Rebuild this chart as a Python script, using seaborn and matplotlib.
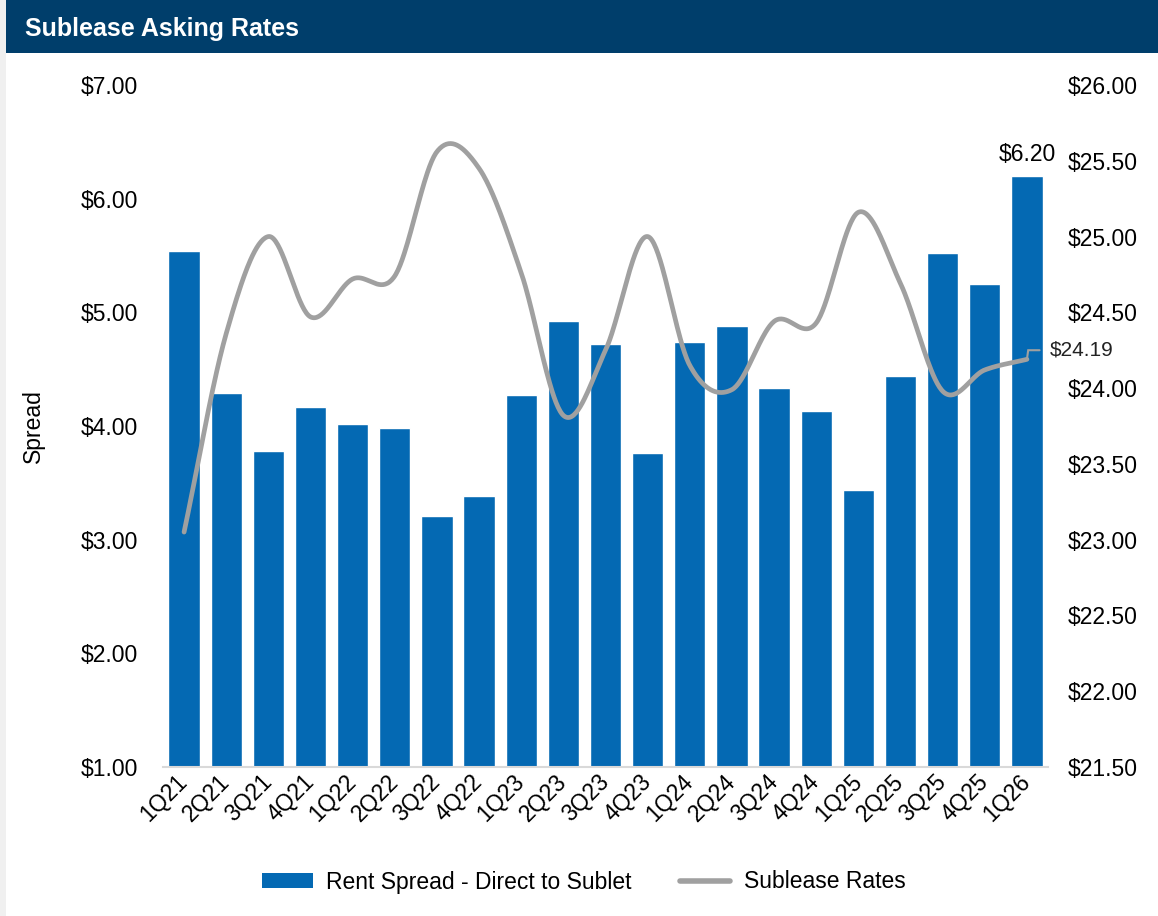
import numpy as np
import pandas as pd
import matplotlib
matplotlib.use("Agg")
import matplotlib.pyplot as plt
from matplotlib.patches import Rectangle, Patch
from matplotlib.lines import Line2D
import seaborn as sns

# Quarterly data
quarters = ["1Q21", "2Q21", "3Q21", "4Q21", "1Q22", "2Q22", "3Q22", "4Q22",
            "1Q23", "2Q23", "3Q23", "4Q23", "1Q24", "2Q24", "3Q24", "4Q24",
            "1Q25", "2Q25", "3Q25", "4Q25", "1Q26"]
rent_spread = [5.54, 4.29, 3.78, 4.17, 4.02, 3.98, 3.21, 3.38,
               4.27, 4.92, 4.72, 3.76, 4.74, 4.88, 4.33, 4.13,
               3.44, 4.44, 5.52, 5.25, 6.20]
sublease_rates = [23.05, 24.36, 25.00, 24.47, 24.72, 24.74, 25.56, 25.45,
                  24.76, 23.82, 24.25, 25.00, 24.15, 23.99, 24.44, 24.43,
                  25.16, 24.69, 23.98, 24.12, 24.19]
left_ticks = [1, 2, 3, 4, 5, 6, 7]
right_ticks = [21.5, 22.0, 22.5, 23.0, 23.5, 24.0, 24.5, 25.0, 25.5, 26.0]

BAR_COLOR = "#0469B3"
LINE_COLOR = "#A0A0A0"
NAVY = "#003E6B"
FONT = ["Liberation Sans", "DejaVu Sans"]


def smooth_curve(values, steps=40):
    """Cubic Hermite (Catmull-Rom) curve through every value."""
    y = np.asarray(values, dtype=float)
    tang = np.gradient(y)
    xs, ys = [], []
    t = np.linspace(0, 1, steps, endpoint=False)
    h00 = 2 * t**3 - 3 * t**2 + 1
    h10 = t**3 - 2 * t**2 + t
    h01 = -2 * t**3 + 3 * t**2
    h11 = t**3 - t**2
    for i in range(len(y) - 1):
        xs.append(i + t)
        ys.append(h00 * y[i] + h10 * tang[i] + h01 * y[i + 1] + h11 * tang[i + 1])
    xs.append(np.array([len(y) - 1.0]))
    ys.append(np.array([y[-1]]))
    return np.concatenate(xs), np.concatenate(ys)


sns.set_theme(style="white")
plt.rcParams["font.family"] = FONT
plt.rcParams["text.color"] = "black"
plt.rcParams["axes.labelcolor"] = "black"
plt.rcParams["xtick.color"] = "black"
plt.rcParams["ytick.color"] = "black"

fig = plt.figure(figsize=(11.58, 9.16), dpi=100)
fig.patch.set_facecolor("white")

# Header band and left margin strip
fig.patches.append(Rectangle((0, 0), 6 / 1158, 1, transform=fig.transFigure,
                             facecolor="#F0F0F0", edgecolor="none", zorder=0))
fig.patches.append(Rectangle((6 / 1158, 1 - 53 / 916), 1, 53 / 916,
                             transform=fig.transFigure, facecolor=NAVY,
                             edgecolor="none", zorder=0))
fig.text(25 / 1158, 1 - 29 / 916, "Sublease Asking Rates", color="white",
         fontsize=18, fontweight="bold", va="center", ha="left")

ax = fig.add_axes([163 / 1158, 1 - 767 / 916, 885 / 1158, 682 / 916])
df = pd.DataFrame({"Quarter": quarters, "Spread": rent_spread})
sns.barplot(data=df, x="Quarter", y="Spread", color=BAR_COLOR, width=0.74,
            saturation=1, ax=ax, zorder=2)
ax.set_ylim(left_ticks[0], left_ticks[-1])
ax.set_xlim(-0.5, len(quarters) - 0.5)
ax.set_yticks(left_ticks)
ax.set_yticklabels([f"${v:.2f}" for v in left_ticks], fontsize=16.5)
ax.set_ylabel("Spread", fontsize=16.5, labelpad=26)
ax.set_xlabel("")
ax.tick_params(axis="y", length=0, pad=18)
ax.tick_params(axis="x", length=0, pad=8)
plt.setp(ax.get_xticklabels(), rotation=45, ha="right", va="center",
         rotation_mode="anchor", fontsize=16.5)
for side in ["left", "right", "top"]:
    ax.spines[side].set_visible(False)
ax.spines["bottom"].set_color("#D9D9D9")
ax.spines["bottom"].set_linewidth(1.5)

# Value label on the latest bar
ax.annotate(f"${rent_spread[-1]:.2f}", xy=(len(quarters) - 1, rent_spread[-1]),
            xytext=(0, 7), textcoords="offset points", ha="center", va="bottom",
            fontsize=16.5, color="black")

# Sublease rate line on the secondary axis
ax2 = ax.twinx()
cx, cy = smooth_curve(sublease_rates)
sns.lineplot(x=cx, y=cy, ax=ax2, color=LINE_COLOR, linewidth=3.4,
             sort=False, estimator=None, zorder=3)
ax2.set_ylim(right_ticks[0], right_ticks[-1])
ax2.set_yticks(right_ticks)
ax2.set_yticklabels([f"${v:.2f}" for v in right_ticks], fontsize=16.5)
ax2.tick_params(axis="y", length=0, pad=14)
ax2.set_ylabel("")
for side in ["left", "right", "top", "bottom"]:
    ax2.spines[side].set_visible(False)

# Leader line and label for the latest sublease rate
last = len(quarters) - 1
ax2.plot([last, last + 0.03, last + 0.3],
         [sublease_rates[-1], sublease_rates[-1] + 0.06, sublease_rates[-1] + 0.06],
         color=LINE_COLOR, linewidth=1.5, solid_joinstyle="miter")
ax2.text(last + 0.55, sublease_rates[-1] + 0.06, f"${sublease_rates[-1]:.2f}",
         fontsize=15, color="#222222", va="center", ha="left")

handles = [Patch(facecolor=BAR_COLOR, edgecolor="none"),
           Line2D([0], [0], color=LINE_COLOR, linewidth=4)]
fig.legend(handles, ["Rent Spread - Direct to Sublet", "Sublease Rates"],
           loc="center", bbox_to_anchor=(584 / 1158, 1 - 882 / 916),
           ncol=2, frameon=False, fontsize=16.5, handlelength=2.2,
           handleheight=0.6, handletextpad=0.6, columnspacing=2.1)

fig.savefig("out.png", dpi=100, facecolor="white")
